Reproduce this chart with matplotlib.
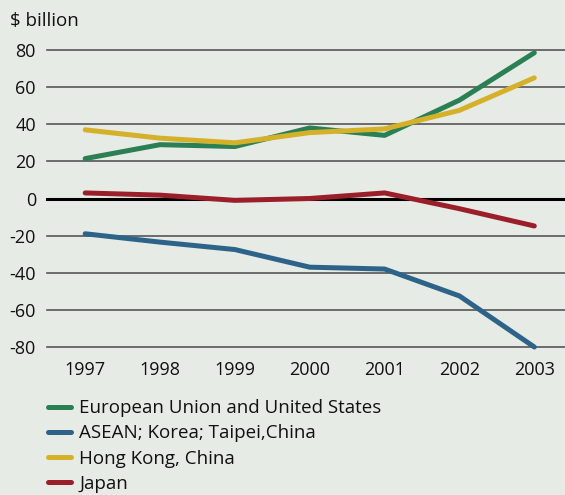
import matplotlib.pyplot as plt
from matplotlib.lines import Line2D

plt.rcParams['font.family'] = ['Open Sans', 'DejaVu Sans']
plt.rcParams['axes.unicode_minus'] = False

years = [1997, 1998, 1999, 2000, 2001, 2002, 2003]
eu_us = [21.5, 29, 28, 38, 34, 53, 78.5]
asean = [-19, -23.5, -27.5, -37, -38, -52.5, -80]
hong_kong = [37, 32.5, 30, 35.5, 37.5, 47.5, 65]
japan = [3, 1.8, -1, 0, 3, -5.5, -14.8]

labels = ['European Union and United States', 'ASEAN; Korea; Taipei,China',
          'Hong Kong, China', 'Japan']
colors = ['#2a7f55', '#2e6389', '#d5b12a', '#9a1f2b']
yticks = [80, 60, 40, 20, 0, -20, -40, -60, -80]

bg = '#e6ebe5'
fig = plt.figure(figsize=(5.65, 4.95), dpi=100, facecolor=bg)
ax = fig.add_axes([47 / 565, 1 - 347 / 495, 518 / 565, 297 / 495])
ax.set_facecolor(bg)

for v in yticks:
    if v == 0:
        ax.axhline(v, color='black', lw=2.2, zorder=1, clip_on=False)
    else:
        ax.axhline(v, color='#555555', lw=1.2, zorder=1, clip_on=False)

series = [eu_us, asean, hong_kong, japan]
# draw order: green, yellow on top, then red, blue
order = [0, 2, 3, 1]
for i in order:
    ax.plot(years, series[i], color=colors[i], lw=3.6, solid_capstyle='round',
            solid_joinstyle='round', zorder=3, clip_on=False)

ax.set_xlim(1996.49, 2003.41)
ax.set_ylim(-80, 80)
ax.set_yticks(yticks)
ax.set_xticks(years)
ax.tick_params(length=0, labelsize=13, colors='#111111')
ax.tick_params(axis='y', pad=8)
ax.tick_params(axis='x', pad=10)
for s in ax.spines.values():
    s.set_visible(False)

fig.text(10 / 565, 1 - 21 / 495, '$ billion', fontsize=13.5, va='center', ha='left',
         color='#111111')

handles = [Line2D([0], [0], color=c, lw=3.6, solid_capstyle='round') for c in colors]
leg = fig.legend(handles, labels, loc='upper left', bbox_to_anchor=(39 / 565, 1 - 390 / 495),
                 frameon=False, fontsize=13.5, handlelength=1.2, handletextpad=0.45,
                 labelspacing=0.38, borderpad=0)
for t in leg.get_texts():
    t.set_color('#111111')

fig.savefig('out.png', dpi=100, facecolor=bg)
